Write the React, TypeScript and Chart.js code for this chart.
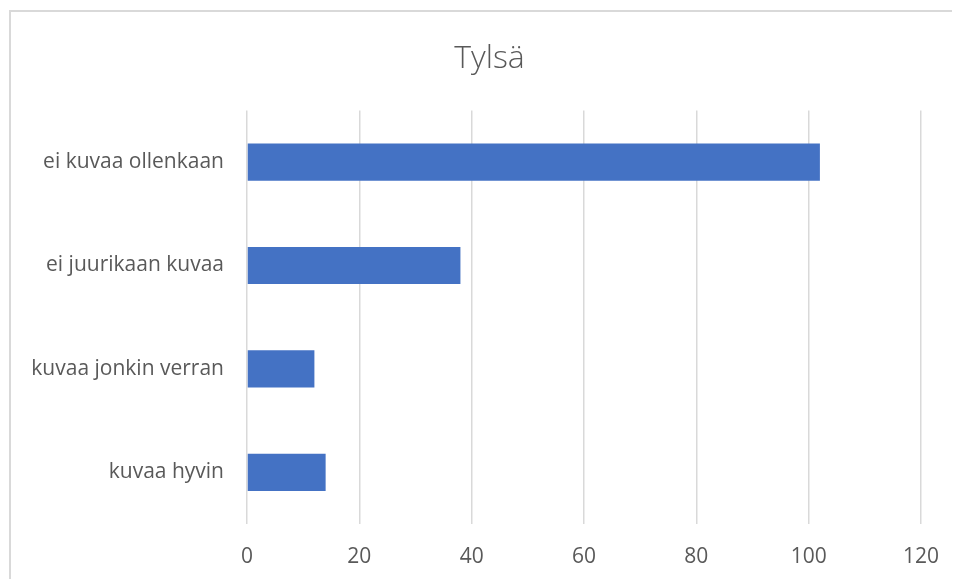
import React, { useEffect, useRef } from "react";
import { Chart, registerables } from "chart.js";

Chart.register(...registerables);

const TITLE = "Tylsä";
const categories = ["ei kuvaa ollenkaan", "ei juurikaan kuvaa", "kuvaa jonkin verran", "kuvaa hyvin"];
const values = [102, 38, 12, 14];
const xMin = 0;
const xMax = 120;
const xStep = 20;

const FONT = "'Open Sans', sans-serif";
const TEXT = "#595959";

// Excel centres the title over the whole chart frame, which extends past the page
const titleShift = {
  id: "titleShift",
  afterLayout(chart: any) {
    if (chart.titleBlock) chart.titleBlock.left = 47;
  },
};

export default function App() {
  const ref = useRef<HTMLCanvasElement | null>(null);
  useEffect(() => {
    document.body.style.overflow = "hidden";
    const chart = new Chart(ref.current!, {
      type: "bar",
      data: {
        labels: categories,
        datasets: [
          {
            data: values,
            backgroundColor: "#4472C4",
            borderWidth: 0,
            barPercentage: 0.36,
            categoryPercentage: 1,
          },
        ],
      },
      options: {
        indexAxis: "y",
        animation: false,
        responsive: false,
        maintainAspectRatio: false,
        layout: { padding: { left: 0, right: 31, top: 0, bottom: 0 } },
        plugins: {
          legend: { display: false },
          tooltip: { enabled: false },
          title: {
            display: true,
            text: TITLE,
            color: TEXT,
            font: { family: FONT, size: 32, weight: 300 },
            padding: { top: 28, bottom: 32 },
          },
        },
        scales: {
          x: {
            min: xMin,
            max: xMax,
            ticks: {
              stepSize: xStep,
              color: TEXT,
              font: { family: FONT, size: 21 },
              padding: 20,
            },
            grid: { color: "#d9d9d9", lineWidth: 1.5, drawTicks: false },
            border: { display: false },
            afterFit: (s: any) => {
              s.height = 55;
              s.paddingLeft = 0;
              s.paddingRight = 0;
            },
          },
          y: {
            ticks: {
              color: TEXT,
              font: { family: FONT, size: 21 },
              padding: 23,
            },
            grid: { display: false, drawTicks: false },
            border: { display: false },
            afterFit: (s: any) => {
              s.width = 236;
            },
          },
        },
      },
      plugins: [titleShift],
    });
    return () => chart.destroy();
  }, []);
  return (
    <div
      style={{
        width: 960,
        height: 567,
        marginLeft: 1,
        marginTop: 2,
        borderTop: "2px solid #d9d9d9",
        borderLeft: "2px solid #d9d9d9",
      }}
    >
      <canvas ref={ref} width={941} height={567} style={{ display: "block" }} />
    </div>
  );
}
